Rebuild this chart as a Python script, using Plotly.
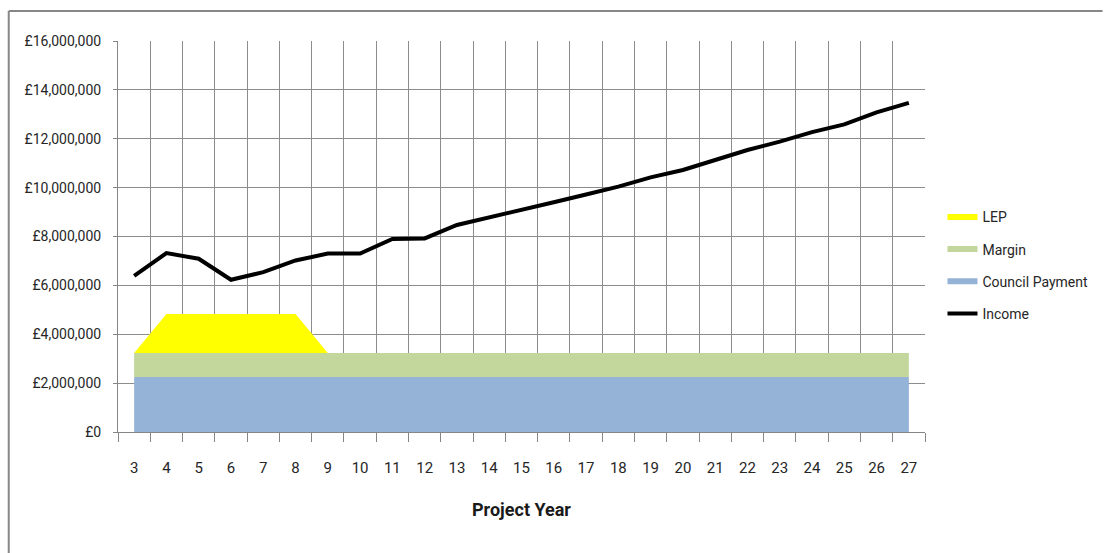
import plotly.graph_objects as go

years = list(range(3, 28))
council_payment = [2250000] * 25
margin = [980000] * 25
lep = [0, 1600000, 1600000, 1600000, 1600000, 1600000] + [0] * 19
income = [6390000, 7320000, 7090000, 6230000, 6540000, 7020000, 7300000, 7300000,
          7900000, 7920000, 8470000, 8770000, 9080000, 9400000, 9720000, 10040000,
          10420000, 10720000, 11130000, 11540000, 11880000, 12270000, 12590000,
          13080000, 13470000]
y_ticks = [0, 2000000, 4000000, 6000000, 8000000, 10000000, 12000000, 14000000, 16000000]
y_tick_labels = ["£0", "£2,000,000", "£4,000,000", "£6,000,000", "£8,000,000",
                 "£10,000,000", "£12,000,000", "£14,000,000", "£16,000,000"]
x_tick_labels = [str(y) for y in years]

FONT = "Roboto, sans-serif"

fig = go.Figure()
fig.add_trace(go.Scatter(x=years, y=council_payment, name="Council Payment", stackgroup="one",
                         mode="none", fillcolor="#95B3D7", legendrank=3, legendgroup="c"))
fig.add_trace(go.Scatter(x=years, y=margin, name="Margin", stackgroup="one",
                         mode="none", fillcolor="#C3D69B", legendrank=2, legendgroup="m"))
fig.add_trace(go.Scatter(x=years, y=lep, name="LEP", stackgroup="one",
                         mode="none", fillcolor="#FFFF00", legendrank=1, legendgroup="l"))
fig.add_trace(go.Scatter(x=years, y=income, name="Income", mode="lines",
                         line=dict(color="#000000", width=4), legendrank=4, legendgroup="i"))

fig.update_layout(
    width=1104, height=553,
    margin=dict(l=118, r=177.5, t=41, b=121),
    paper_bgcolor="white", plot_bgcolor="white",
    font=dict(family=FONT, size=14, color="#262626"),
    showlegend=True,
    legend=dict(x=1.0204, y=0.59, xanchor="left", yanchor="top",
                font=dict(family=FONT, size=14, color="#262626"),
                tracegroupgap=11, itemwidth=30, bgcolor="rgba(0,0,0,0)", borderwidth=0),
    xaxis=dict(range=[2.5, 27.5], tickmode="array", tickvals=years,
               ticktext=x_tick_labels, ticks="", showgrid=False,
               showline=True, linecolor="#868686", linewidth=1,
               ticklabelstandoff=22, zeroline=False,
               tickfont=dict(family=FONT, size=15, color="#262626"),
               minor=dict(tickvals=[y - 0.5 for y in years] + [27.5], showgrid=True,
                          gridcolor="#8C8C8C", gridwidth=1, ticks="outside",
                          ticklen=9, tickcolor="#868686"),
               title=dict(text="<b>Project Year</b>", font=dict(family=FONT, size=18, color="#1a1a1a"),
                          standoff=27)),
    yaxis=dict(range=[0, 16000000], tickmode="array", tickvals=y_ticks,
               ticktext=y_tick_labels, ticks="outside", ticklen=4,
               tickcolor="#868686", showgrid=True, gridcolor="#8C8C8C", gridwidth=1,
               showline=True, linecolor="#868686", linewidth=1, zeroline=False,
               ticklabelstandoff=9),
)

# outer chart border (top and left edges visible in the reference)
fig.add_shape(type="line", xref="paper", yref="paper", x0=-0.1354, x1=1.22, y0=1.0767, y1=1.0767,
              line=dict(color="#878787", width=2))
fig.add_shape(type="line", xref="paper", yref="paper", x0=-0.1354, x1=-0.1354, y0=-0.32, y1=1.0767,
              line=dict(color="#878787", width=2))

fig.write_html("out.html")
